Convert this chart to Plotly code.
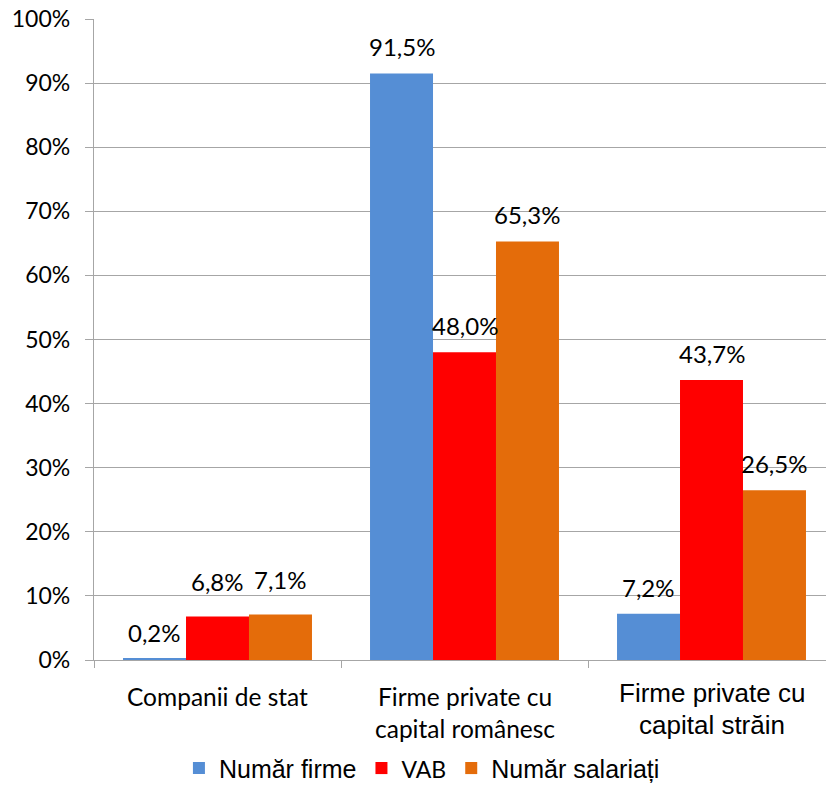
import plotly.graph_objects as go

# Categories (each entry is a list of label lines) and series values in percent
categories = [
    ["Companii de stat"],
    ["Firme private cu", "capital românesc"],
    ["Firme private cu", "capital străin"],
]
series_names = ["Număr firme", "VAB", "Număr salariați"]
numar_firme = [0.2, 91.5, 7.2]
vab = [6.8, 48.0, 43.7]
numar_salariati = [7.1, 65.3, 26.5]
y_ticks = [0, 10, 20, 30, 40, 50, 60, 70, 80, 90, 100]

series_values = [numar_firme, vab, numar_salariati]
colors = ["#558ED5", "#FF0000", "#E46C0A"]

CAL = "Lato"
ARIAL = "Liberation Sans"
GRID = "#a6a6a6"

# extra lift (px) for the crowded labels in the first group: (series, category)
label_lift = {(1, 0): 8, (2, 0): 8}

# legend labels: VAB drawn in the lighter face
legend_labels = [
    series_names[0],
    f'<span style="font-family:{CAL};font-size:23px">{series_names[1]}</span>',
    series_names[2],
]

x_pos = list(range(len(categories)))
fig = go.Figure()
for name, label, vals, col in zip(series_names, legend_labels, series_values, colors):
    fig.add_trace(go.Bar(
        x=x_pos, y=vals, name=label, marker=dict(color=col, line=dict(width=0)),
        hoverinfo="skip",
    ))

bar_w = (1 - 0.235) / 3
annotations = []
# value labels above each bar
for j, vals in enumerate(series_values):
    for i, v in enumerate(vals):
        annotations.append(dict(
            x=i + (j - 1) * bar_w, y=v, xref="x", yref="y",
            text=f"{v:.1f}".replace(".", ",") + "%",
            showarrow=False, yanchor="bottom", yshift=10 + label_lift.get((j, i), 0),
            font=dict(family=CAL, size=24, color="#000000"),
        ))

# category labels under the axis
for i, lines in enumerate(categories):
    arial = i == 2
    for k, line in enumerate(lines):
        annotations.append(dict(
            x=i, y=0, xref="x", yref="paper",
            text=line, showarrow=False, yanchor="middle",
            yshift=-((33 if arial else 36) + 32 * k),
            font=dict(family=ARIAL if arial else CAL, size=26 if arial else 24.5,
                      color="#000000"),
        ))

fig.update_layout(
    width=826, height=787,
    margin=dict(l=94, r=0, t=19, b=127, pad=0, autoexpand=False),
    paper_bgcolor="white", plot_bgcolor="white",
    barmode="group", bargap=0.235, bargroupgap=0,
    font=dict(family=CAL, size=22, color="#000000"),
    showlegend=True,
    legend=dict(
        orientation="h", x=0.448, xanchor="center", y=-0.169, yanchor="middle",
        font=dict(family=ARIAL, size=25, color="#000000"),
        itemclick=False, itemdoubleclick=False, traceorder="normal",
    ),
    annotations=annotations,
    xaxis=dict(
        type="linear", range=[-0.5, 2.5 - 9 / 247],
        tickvals=[-0.5, 0.5, 1.5, 2.5], showticklabels=False,
        ticks="outside", ticklen=7, tickcolor=GRID, tickwidth=1.3,
        showline=True, linecolor=GRID, linewidth=1.3,
        showgrid=False, zeroline=False, fixedrange=True, automargin=False,
    ),
    yaxis=dict(
        range=[0, 100], tickvals=y_ticks, ticktext=[f"{t}%" for t in y_ticks],
        ticks="outside", ticklen=8, tickcolor=GRID, tickwidth=1.3,
        ticklabelstandoff=10,
        showline=True, linecolor=GRID, linewidth=1.3,
        showgrid=True, gridcolor=GRID, gridwidth=1.3,
        zeroline=False, fixedrange=True, automargin=False,
        tickfont=dict(family=CAL, size=23, color="#000000"),
    ),
)

fig.write_html("out.html", config={"displayModeBar": False})
